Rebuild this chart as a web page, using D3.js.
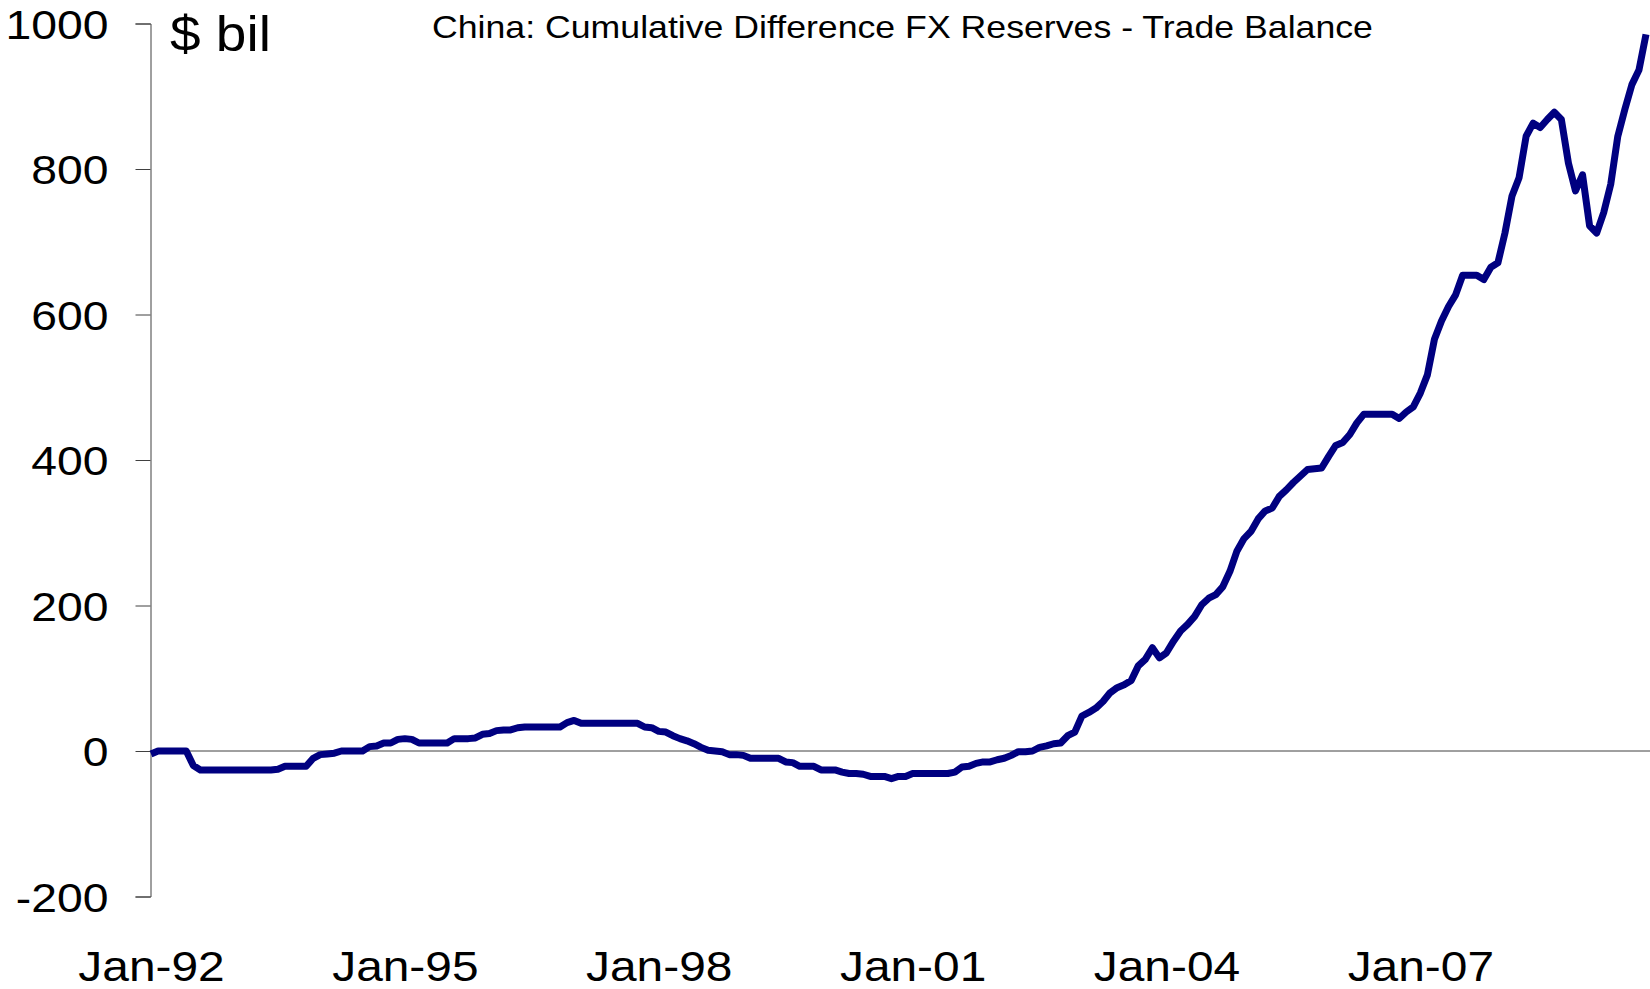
<!DOCTYPE html>
<html>
<head>
<meta charset="utf-8">
<script src="https://cdn.jsdelivr.net/npm/d3@7"></script>
<style>
  body { margin: 0; background: #fff; }
  text { font-family: "Liberation Sans", Arial, sans-serif; fill: #000; }
</style>
</head>
<body>
<div id="chart"></div>
<script>
  // monthly series, Jan-92 .. Sep-09 ($ bil)
  var values = [
    -4, 0, 0, 0, 0, 0, -20, -26, -26, -26, -26, -26,
    -26, -26, -26, -26, -26, -26, -25, -21, -21, -21, -21, -10,
    -5, -4, -3, 0, 0, 0, 0, 6, 7, 11, 11, 16,
    17, 16, 11, 11, 11, 11, 11, 17, 17, 17, 18, 23,
    24, 28, 29, 29, 32, 33, 33, 33, 33, 33, 33, 39,
    42, 38, 38, 38, 38, 38, 38, 38, 38, 38, 33, 32,
    27, 26, 21, 17, 14, 10, 5, 1, 0, -1, -5, -5,
    -6, -10, -10, -10, -10, -10, -15, -16, -21, -21, -21, -26,
    -26, -26, -29, -31, -31, -32, -35, -35, -35, -38, -35, -35,
    -31, -31, -31, -31, -31, -31, -29, -22, -21, -17, -15, -15,
    -12, -10, -6, -1, -1, 0, 5, 7, 10, 11, 21, 26,
    48, 53, 59, 68, 80, 87, 91, 97, 117, 126, 142, 128,
    135, 151, 165, 174, 185, 201, 210, 215, 226, 247, 275, 292,
    302, 319, 330, 334, 350, 359, 369, 378, 387, 388, 389, 405,
    420, 424, 435, 451, 463, 463, 463, 463, 463, 457, 466, 473,
    492, 517, 566, 591, 611, 627, 654, 654, 654, 648, 665, 671,
    712, 763, 788, 845, 863, 857, 868, 878, 868, 808, 770, 792,
    722, 712, 740, 779, 845, 882, 916, 936, 985
  ];

  var months = values.map(function (v, i) { return new Date(1992, i, 1); });

  var yTicks = [-200, 0, 200, 400, 600, 800, 1000];
  var xTickLabels = ["Jan-92", "Jan-95", "Jan-98", "Jan-01", "Jan-04", "Jan-07"];
  var titleText = "China: Cumulative Difference FX Reserves - Trade Balance";
  var unitText = "$ bil";

  var W = 1650, H = 989;
  var margin = { left: 150.5, right: 1650, top: 23.5, bottom: 896.5 };
  var stretch = 1.13; // the source fonts are drawn a bit wide

  var svg = d3.select("#chart").append("svg")
    .attr("width", W)
    .attr("height", H);

  var fmt = d3.timeFormat("%b-%y");

  var x = d3.scalePoint()
    .domain(months.map(fmt))
    .range([margin.left + 0.5, margin.right - 4]);

  var y = d3.scaleLinear()
    .domain([-200, 1000])
    .range([margin.bottom, margin.top]);

  // y axis
  var yAxis = svg.append("g")
    .attr("transform", "translate(" + margin.left + ",0)")
    .call(d3.axisLeft(y).tickValues(yTicks).tickSize(15).tickPadding(27)
      .tickFormat(function (d) { return String(d); }));
  yAxis.select(".domain").attr("stroke", "#404040").attr("stroke-width", 1);
  yAxis.selectAll(".tick line").attr("stroke", "#404040");
  yAxis.selectAll("text")
    .style("font-size", "41px")
    .attr("x", -42 / stretch)
    .attr("dy", "0.36em")
    .attr("transform", "scale(" + stretch + ",1)")
    .attr("fill", "#000");

  // zero line
  svg.append("line")
    .attr("x1", margin.left)
    .attr("x2", margin.right)
    .attr("y1", y(0))
    .attr("y2", y(0))
    .attr("stroke", "#404040")
    .attr("stroke-width", 1);

  // x labels
  var xAxis = svg.append("g")
    .attr("transform", "translate(0,981)")
    .call(d3.axisBottom(x).tickValues(xTickLabels).tickSize(0).tickPadding(0));
  xAxis.select(".domain").remove();
  xAxis.selectAll("text")
    .attr("dy", 0)
    .attr("y", 0)
    .style("font-size", "42px")
    .attr("transform", "scale(1.14,1)")
    .attr("fill", "#000");

  // line
  var line = d3.line()
    .x(function (d, i) { return x(fmt(months[i])); })
    .y(function (d) { return y(d); });

  svg.append("path")
    .datum(values)
    .attr("fill", "none")
    .attr("stroke", "#000080")
    .attr("stroke-width", 7)
    .attr("stroke-linejoin", "round")
    .attr("d", line);

  // title and unit label
  svg.append("text")
    .attr("transform", "translate(432,37.5) scale(1.115,1)")
    .style("font-size", "32px")
    .text(titleText);

  svg.append("text")
    .attr("transform", "translate(170,50.5) scale(1.1,1)")
    .style("font-size", "50px")
    .text(unitText);
</script>
</body>
</html>
